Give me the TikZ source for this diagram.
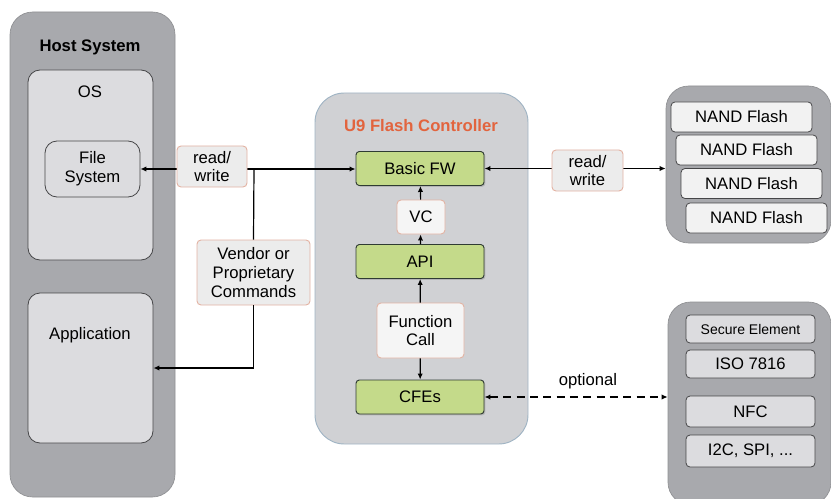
\documentclass[tikz,border=0pt]{standalone}
\usepackage{fontspec}
\setmainfont{Liberation Sans}
\usetikzlibrary{arrows.meta,shadows}

\definecolor{hostgray}{RGB}{168,169,173}
\definecolor{innerfill}{RGB}{220,220,223}
\definecolor{ctrlfill}{RGB}{208,209,212}
\definecolor{ctrlline}{RGB}{160,180,196}
\definecolor{fwgreen}{RGB}{196,218,138}
\definecolor{greenline}{RGB}{47,59,51}
\definecolor{tagfill}{RGB}{236,236,236}
\definecolor{tagline}{RGB}{227,179,163}
\definecolor{darkline}{RGB}{70,70,72}
\definecolor{titlered}{RGB}{226,100,62}

\newcommand{\dfont}{\fontsize{12.5}{14}\selectfont}
\newcommand{\sfont}{\fontsize{10.5}{12}\selectfont}

\tikzset{every picture/.style={line width=0.75pt}}
\tikzset{
  grpbox/.style={draw=hostgray!85!black, fill=hostgray, rounded corners=17pt, line width=0.5pt, inner sep=0pt},
  innerbox/.style={draw=darkline, fill=innerfill, rounded corners=9pt, line width=0.6pt, inner sep=0pt, align=center, font=\dfont},
  fwbox/.style={draw=greenline, fill=fwgreen, rounded corners=2.5pt, line width=0.7pt, minimum width=96pt, minimum height=25.5pt, inner sep=0pt, font=\dfont,
    drop shadow={opacity=0.35, shadow xshift=1pt, shadow yshift=-1pt}},
  tagbox/.style={draw=tagline, fill=tagfill, rounded corners=3pt, line width=0.7pt, inner sep=0pt, align=center, font=\dfont},
  flashbox/.style={draw=darkline, fill=white!95!black, rounded corners=3pt, line width=0.6pt, minimum width=105.75pt, minimum height=22.5pt, inner sep=0pt, font=\dfont},
  sebox/.style={draw=darkline, fill=innerfill, rounded corners=3pt, line width=0.6pt, minimum width=96.75pt, inner sep=0pt, font=\dfont},
  conn/.style={line width=0.9pt, >={Latex[length=4.5pt,width=4pt]}},
}

\begin{document}
\begin{tikzpicture}[x=0.75pt,y=0.75pt,yscale=-1,xscale=1]
\useasboundingbox (0,0) rectangle (831,499);

%Host side
\node[grpbox, minimum width=123.75pt, minimum height=363.75pt] (host) at (92.5,254.5) {};
\node[innerbox, minimum width=93.75pt, minimum height=142.5pt] (os) at (90.5,165) {};
\node[innerbox, minimum width=71.25pt, minimum height=42pt] (fs) at (92.5,169) {File\\System};
\node[innerbox, minimum width=93.75pt, minimum height=112.5pt] (app) at (90.5,368) {};
% Text Node
\node[font=\dfont\bfseries] (hosttxt) at (90,47) {Host System};
% Text Node
\node[font=\dfont] (ostxt) at (90,92) {OS};
% Text Node
\node[font=\dfont] (apptxt) at (90,335) {Application};

%Controller
\node[draw=ctrlline, fill=ctrlfill, rounded corners=22pt, line width=0.7pt, inner sep=0pt, minimum width=159.75pt, minimum height=263.25pt] (ctrl) at (421.5,268.5) {};
% Text Node
\node[font=\dfont\bfseries, text=titlered] (ctrltxt) at (421,126) {U9 Flash Controller};
\node[fwbox] (bfw) at (420,168.5) {Basic FW};
\node[tagbox, fill=white!96!black, minimum width=36pt, minimum height=25.5pt] (vc) at (421,217) {VC};
\node[fwbox] (api) at (420,261.5) {API};
\node[tagbox, fill=white!96!black, minimum width=65.25pt, minimum height=41.25pt] (fcall) at (420.5,330.5) {Function\\Call};
\node[fwbox] (cfe) at (420,397) {CFEs};

%NAND group
\node[grpbox, minimum width=123.75pt, minimum height=117.75pt] (nands) at (748.5,164.5) {};
\node[flashbox] (nand1) at (741.5,117) {NAND Flash};
\node[flashbox] (nand2) at (746.5,150) {NAND Flash};
\node[flashbox] (nand3) at (751.5,183.5) {NAND Flash};
\node[flashbox] (nand4) at (756.5,218) {NAND Flash};

%Secure element group
\node[grpbox, minimum width=122.25pt, minimum height=152.25pt] (sec) at (749.5,403.5) {};
\node[sebox, minimum height=21pt, font=\sfont] (selem) at (750.5,329) {Secure Element};
\node[sebox, minimum height=21pt] (iso) at (750.5,364) {ISO 7816};
\node[sebox, minimum height=23.25pt] (nfc) at (750.5,411.5) {NFC};
\node[sebox, minimum height=24pt] (bus) at (750.5,451) {I2C, SPI, ...};

%Connectors
\node[tagbox, minimum width=84.75pt, minimum height=48.75pt] (vendor) at (253.5,272.5) {Vendor or\\Proprietary\\Commands};
\coordinate (jn) at (254,169);
\draw[conn,<->] (fs.east) -- (fs.east -| bfw.west);
\draw[conn] (jn) -- (vendor.north);
\draw[conn,->] (vendor.south) |- (app.east);
\draw[conn,->] (vc) -- (bfw);
\draw[conn,->] (api) -- (vc);
\draw[conn,->] (fcall) -- (api);
\draw[conn,->] (fcall) -- (cfe);
\draw[conn,<->] (bfw.east) -- (bfw.east -| nands.west);
\draw[conn,<->, line width=1.3pt, dash pattern=on 6pt off 4pt] (cfe.east) -- (cfe.east -| sec.west);

% Text Node
\node[tagbox, minimum width=52.5pt, minimum height=30.75pt] (rwhost) at (212,166.5) {read/\\write};
% Text Node
\node[tagbox, minimum width=53.25pt, minimum height=30.75pt] (rwflash) at (587.5,170.5) {read/\\write};
% Text Node
\node[font=\dfont] (opttxt) at (588,381) {optional};

\end{tikzpicture}
\end{document}
